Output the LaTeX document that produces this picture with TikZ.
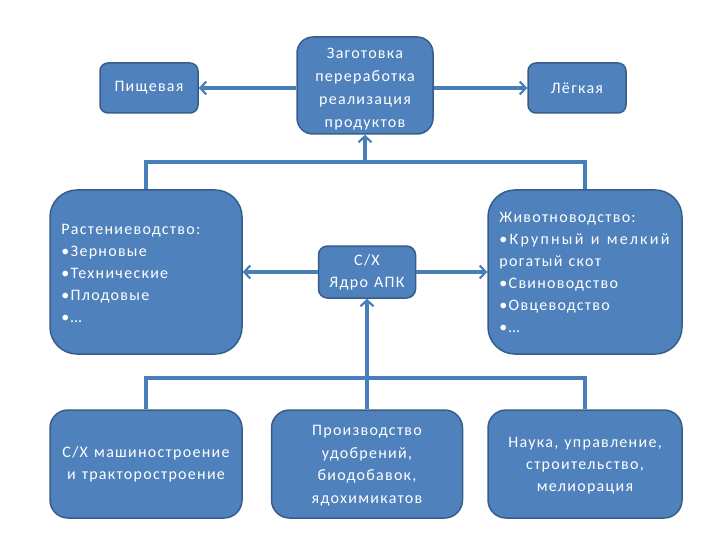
\documentclass[tikz,border=0pt]{standalone}
\usepackage{fontspec}
\setmainfont{Carlito}[LetterSpace=8, WordSpace=1.25]
\usetikzlibrary{arrows.meta}
\definecolor{boxfill}{HTML}{4F81BD}
\definecolor{boxline}{HTML}{385D8A}
\definecolor{lineblue}{HTML}{4A7EBB}
\begin{document}
\begin{tikzpicture}[x=1pt,y=-1pt,
  blk/.style={draw=boxline, line width=1.5pt, fill=boxfill, text=white, inner sep=0pt, align=center, font=\fontsize{16}{22}\selectfont},
  txt/.style={text=white, inner sep=0pt, align=left, anchor=west, font=\fontsize{16}{22}\selectfont},
  conn/.style={draw=lineblue, line width=3.5pt},
  arr/.style={conn, -{Straight Barb[length=6pt,width=13pt,line width=2.2pt]}}]
\useasboundingbox (0,0) rectangle (720,540);
\node[blk, minimum width=98pt, minimum height=50pt, rounded corners=8pt] (pish) at (149,88) {Пищевая};
\node[blk, minimum width=136pt, minimum height=97pt, rounded corners=16pt, font=\fontsize{16}{23}\selectfont] (zag) at (365,85.5) {\rule{0pt}{17pt}Заготовка\\переработка\\реализация\\продуктов};
\node[blk, minimum width=98pt, minimum height=50pt, rounded corners=8pt] (leg) at (577,88) {Лёгкая};
\node[blk, minimum width=192pt, minimum height=164pt, rounded corners=27pt] (rast) at (146,272) {};
\node[txt] (rastt) at ([xshift=12pt]rast.west) {\rule{0pt}{13pt}Растениеводство:\\•Зерновые\\•Технические\\•Плодовые\\•…};
\node[blk, minimum width=97pt, minimum height=52pt, rounded corners=9pt] (sx) at (367,272) {С/Х\\Ядро АПК};
\node[blk, minimum width=194pt, minimum height=164pt, rounded corners=27pt] (zhiv) at (585,272) {};
\node[txt] (zhivt) at ([xshift=12pt]zhiv.west) {Животноводство:\\{\addfontfeatures{LetterSpace=14}•Крупный и мелкий}\\рогатый скот\\•Свиноводство\\•Овцеводство\\•…};
\node[blk, minimum width=192pt, minimum height=108pt, rounded corners=18pt] (mash) at (146,464) {С/Х машиностроение\\и тракторостроение};
\node[blk, minimum width=191pt, minimum height=108pt, rounded corners=18pt, font=\fontsize{16}{22.5}\selectfont] (proizv) at (367,464) {\rule{0pt}{14pt}Производство\\удобрений,\\биодобавок,\\ядохимикатов};
\node[blk, minimum width=194pt, minimum height=108pt, rounded corners=18pt] (nauka) at (585,464) {\rule{0pt}{14pt}Наука, управление,\\строительство,\\мелиорация};
\coordinate (tbus) at (365,162);
\coordinate (bbus) at (367,378);
\draw[arr] (zag.west |- pish.east) -- (pish.east);
\draw[arr] (zag.east |- leg.west) -- (leg.west);
\draw[conn] (rast.north) |- (tbus) -| (zhiv.north);
\draw[arr] (tbus) -- (zag.south);
\draw[arr] (sx.west) -- (rast.east);
\draw[arr] (sx.east) -- (zhiv.west);
\draw[conn] (mash.north) |- (bbus) -| (nauka.north);
\draw[conn] (bbus) -- (proizv.north);
\draw[arr] (bbus) -- (sx.south);
\end{tikzpicture}
\end{document}
